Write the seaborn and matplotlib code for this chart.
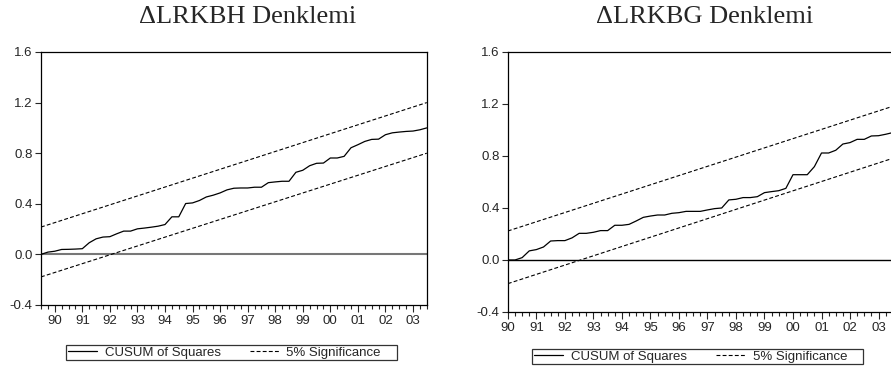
#CUSUM of squares charts, two equations side by side

import seaborn as sns
import matplotlib.pyplot as plt
import pandas as pd
from matplotlib.lines import Line2D

sns.set_style("ticks")
plt.rcParams['font.family'] = ['Liberation Sans', 'DejaVu Sans']

#data (quarterly)
# left: 1989Q3 - 2003Q3, right: 1990Q1 - 2003Q4
cusum_bh = [0.0, 0.018, 0.025, 0.039, 0.04, 0.042, 0.045, 0.092, 0.123, 0.137,
            0.14, 0.163, 0.184, 0.184, 0.202, 0.208, 0.215, 0.223, 0.236, 0.297,
            0.297, 0.402, 0.407, 0.426, 0.454, 0.468, 0.486, 0.51, 0.523, 0.525,
            0.525, 0.531, 0.531, 0.567, 0.573, 0.578, 0.578, 0.649, 0.665, 0.701,
            0.72, 0.722, 0.762, 0.762, 0.775, 0.843, 0.867, 0.893, 0.909, 0.911,
            0.946, 0.961, 0.967, 0.972, 0.975, 0.985, 1.0]
upper_bh = [0.216, 1.2]
lower_bh = [-0.178, 0.8]

cusum_bg = [0.0, 0.0, 0.018, 0.07, 0.08, 0.10, 0.146, 0.149, 0.149, 0.17,
            0.205, 0.205, 0.213, 0.226, 0.226, 0.267, 0.267, 0.274, 0.30, 0.328,
            0.338, 0.346, 0.346, 0.359, 0.364, 0.374, 0.374, 0.374, 0.385, 0.395,
            0.40, 0.462, 0.467, 0.48, 0.48, 0.487, 0.518, 0.526, 0.533, 0.551,
            0.656, 0.656, 0.656, 0.718, 0.823, 0.823, 0.844, 0.892, 0.903, 0.928,
            0.928, 0.954, 0.956, 0.967, 0.98, 1.0]
upper_bg = [0.223, 1.2]
lower_bg = [-0.182, 0.8]

year_labels = ['90', '91', '92', '93', '94', '95', '96', '97', '98', '99',
               '00', '01', '02', '03']
titles = ['\u0394LRKBH Denklemi', '\u0394LRKBG Denklemi']

fig = plt.figure(figsize=(8.91, 3.70), dpi=100)
ax1 = fig.add_axes([0.046, 0.1757, 0.433, 0.6838])
ax2 = fig.add_axes([0.570, 0.1568, 0.440, 0.7027])


def draw(ax, cusum, upper, lower, first_year_obs, zero_color, zero_lw):
    n = len(cusum)
    df = pd.DataFrame({"obs": range(n), "val": cusum})
    ends = pd.DataFrame({"obs": [0, n - 1], "up": upper, "lo": lower})
    ax.axhline(0, color=zero_color, lw=zero_lw, zorder=1)
    sns.lineplot(x="obs", y="val", data=df, ax=ax, color="black", lw=0.9)
    sns.lineplot(x="obs", y="up", data=ends, ax=ax, color="black", lw=0.8,
                 linestyle=(0, (3.5, 2)))
    sns.lineplot(x="obs", y="lo", data=ends, ax=ax, color="black", lw=0.8,
                 linestyle=(0, (3.5, 2)))
    ax.set_xlim(0, n - 1)
    ax.set_ylim(-0.4, 1.6)
    ax.set_yticks([-0.4, 0.0, 0.4, 0.8, 1.2, 1.6])
    ax.set_yticklabels(['-0.4', '0.0', '0.4', '0.8', '1.2', '1.6'])
    ax.set_xticks(range(first_year_obs, n, 4))
    ax.set_xticklabels(year_labels)
    ax.set_xticks(range(n), minor=True)
    ax.tick_params(axis='x', which='major', length=5, width=0.8, pad=2,
                   labelsize=9.5)
    ax.tick_params(axis='x', which='minor', length=3, width=0.8)
    ax.tick_params(axis='y', length=4, width=0.8, pad=2, labelsize=9.5)
    ax.set_xlabel("")
    ax.set_ylabel("")
    for s in ax.spines.values():
        s.set_visible(True)
        s.set_linewidth(0.9)
        s.set_color("black")


draw(ax1, cusum_bh, upper_bh, lower_bh, 2, "#777777", 1.5)
draw(ax2, cusum_bg, upper_bg, lower_bg, 0, "black", 1.0)

fig.text(0.278, 0.953, titles[0], ha='center', va='center', fontsize=19,
         family='Liberation Serif')
fig.text(0.791, 0.953, titles[1], ha='center', va='center', fontsize=19,
         family='Liberation Serif')

handles = [Line2D([], [], color='black', lw=0.9),
           Line2D([], [], color='black', lw=0.8, linestyle=(0, (3.5, 2)))]
names = ['CUSUM of Squares', '5% Significance    ']
# legend boxes: (left px, top px)
for x0, top in [(66, 345), (532, 349)]:
    leg = fig.legend(handles, names, loc='upper left',
                     bbox_to_anchor=(x0 / 891, 1 - top / 370),
                     ncol=2, fontsize=9.5, frameon=True,
                     fancybox=False, edgecolor='black', handlelength=2.2,
                     handletextpad=0.6, columnspacing=2.2, borderpad=0.12,
                     borderaxespad=0)
    leg.get_frame().set_linewidth(0.9)

fig.savefig("out.png", dpi=100)
